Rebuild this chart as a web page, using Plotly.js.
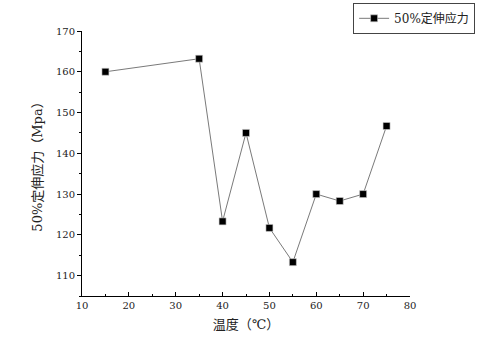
<!DOCTYPE html>
<html>
<head>
<meta charset="utf-8">
<script src="https://cdn.plot.ly/plotly-3.0.1.min.js"></script>
<style>html,body{margin:0;padding:0;background:#fff;}#chart{width:503px;height:353px;}</style>
</head>
<body>
<div id="chart"></div>
<script>
const temperatures = [15, 35, 40, 45, 50, 55, 60, 65, 70, 75];
const stress50 = [160, 163.2, 123.3, 145, 121.7, 113.3, 130, 128.3, 130, 146.7];
const seriesName = "50%定伸应力";
const xTitle = "温度（℃）";
const yTitle = "50%定伸应力（Mpa）";

const FONT = "DejaVu Serif, Noto Sans CJK SC";

const trace = {
  x: temperatures,
  y: stress50,
  name: seriesName,
  type: "scatter",
  mode: "lines+markers",
  line: {color: "#7a7a7a", width: 1},
  marker: {symbol: "square", size: 7, color: "#000", line: {color: "#cfcfcf", width: 0.6}},
  showlegend: true
};

const layout = {
  width: 503, height: 353,
  margin: {l: 82, r: 93, t: 31, b: 57, pad: 0, autoexpand: false},
  paper_bgcolor: "#fff", plot_bgcolor: "#fff",
  font: {family: FONT, size: 10, color: "#222"},
  showlegend: true,
  legend: {
    xref: "container", yref: "container",
    x: 0.702, y: 0.992, xanchor: "left", yanchor: "top",
    bordercolor: "#444", borderwidth: 1, bgcolor: "#fff",
    font: {family: FONT, size: 12, color: "#222"},
    tracegroupgap: 0, itemwidth: 30
  },
  xaxis: {
    range: [10, 80], tick0: 10, dtick: 10,
    showline: true, linecolor: "#000", linewidth: 1,
    showgrid: false, zeroline: false,
    ticks: "inside", ticklen: 4, tickcolor: "#000",
    minor: {ticks: "inside", ticklen: 2, dtick: 5, tickcolor: "#000", showgrid: false},
    tickfont: {family: FONT, size: 10, color: "#222"},
    title: {text: xTitle, font: {family: FONT, size: 13, color: "#222"}, standoff: 9}
  },
  yaxis: {
    range: [105, 170], tick0: 110, dtick: 10,
    showline: true, linecolor: "#000", linewidth: 1,
    showgrid: false, zeroline: false,
    ticks: "outside", ticklen: 4, tickcolor: "#000",
    minor: {ticks: "outside", ticklen: 2, dtick: 5, tickcolor: "#000", showgrid: false},
    tickfont: {family: FONT, size: 10, color: "#222"},
    title: {text: yTitle, font: {family: FONT, size: 13, color: "#222"}, standoff: 10}
  }
};

Plotly.newPlot("chart", [trace], layout, {displayModeBar: false, staticPlot: true});
</script>
</body>
</html>
